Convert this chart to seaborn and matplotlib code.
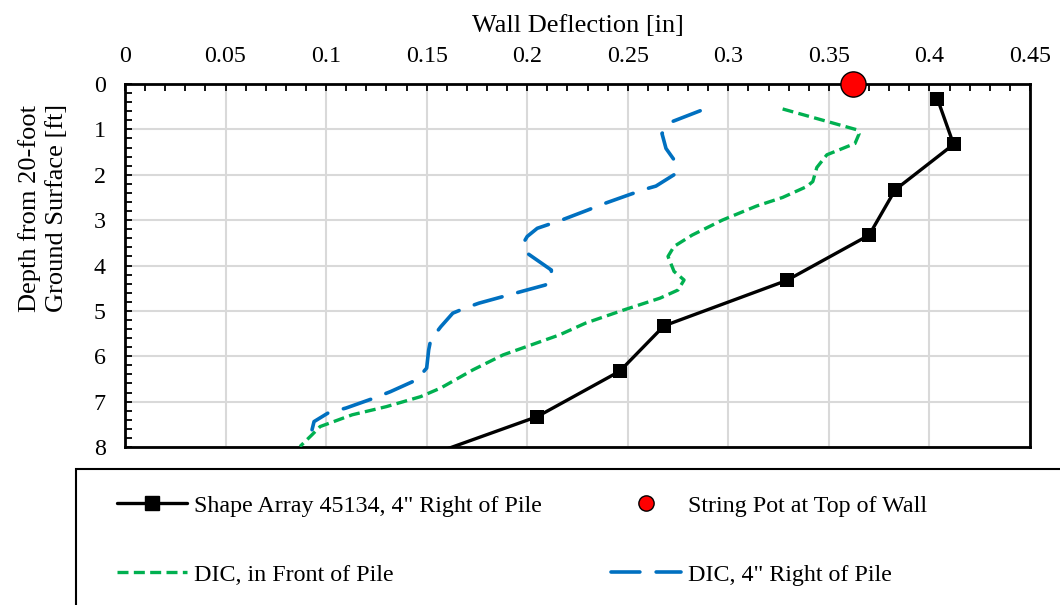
import pandas as pd
import matplotlib
matplotlib.use("Agg")
import matplotlib.pyplot as plt
from matplotlib.lines import Line2D
from matplotlib.patches import Rectangle
from matplotlib.ticker import MultipleLocator
import seaborn as sns

# Shape array 45134, 4" right of pile
shape_depth = [0.33, 1.33, 2.33, 3.33, 4.33, 5.33, 6.33, 7.33, 8.33]
shape_defl = [0.404, 0.412, 0.383, 0.370, 0.329, 0.268, 0.246, 0.205, 0.142]

# string pot at top of wall
pot_depth = [0.0]
pot_defl = [0.362]

# DIC, in front of pile
front_depth = [0.55, 1.01, 1.10, 1.31, 1.56, 1.84, 2.15, 2.26, 2.50, 2.69, 3.00, 3.33,
               3.58, 3.80, 4.13, 4.32, 4.54, 4.72, 4.98, 5.27, 5.53, 5.64, 5.97, 6.30,
               6.70, 6.89, 7.11, 7.29, 7.55, 7.73, 7.99]
front_defl = [0.327, 0.364, 0.365, 0.363, 0.349, 0.344, 0.342, 0.339, 0.327, 0.314, 0.297, 0.282,
              0.273, 0.270, 0.273, 0.278, 0.275, 0.266, 0.248, 0.229, 0.216, 0.209, 0.188, 0.173,
              0.157, 0.147, 0.130, 0.113, 0.097, 0.093, 0.087]

# DIC, 4" right of pile
right_depth = [0.59, 0.83, 1.09, 1.42, 1.67, 2.00, 2.25, 2.30, 2.42, 2.64, 2.78, 3.00,
               3.18, 3.36, 3.51, 3.73, 4.10, 4.32, 4.43, 4.55, 4.83, 4.94, 5.05, 5.35,
               5.64, 5.86, 6.26, 6.52, 6.78, 6.92, 7.14, 7.25, 7.44, 7.62]
right_defl = [0.286, 0.272, 0.267, 0.269, 0.273, 0.273, 0.264, 0.260, 0.252, 0.238, 0.230, 0.217,
              0.205, 0.200, 0.198, 0.200, 0.212, 0.212, 0.209, 0.199, 0.176, 0.169, 0.163, 0.157,
              0.152, 0.151, 0.150, 0.145, 0.132, 0.124, 0.110, 0.101, 0.094, 0.093]

labels = ["Shape Array 45134, 4\" Right of Pile", "DIC, in Front of Pile",
          "String Pot at Top of Wall", "DIC, 4\" Right of Pile"]

sns.set_style("white")
plt.rcParams["font.family"] = ["Liberation Serif", "DejaVu Serif"]
plt.rcParams["font.size"] = 17.3
plt.rcParams["text.color"] = "black"
plt.rcParams["axes.labelcolor"] = "black"
plt.rcParams["xtick.color"] = "black"
plt.rcParams["ytick.color"] = "black"

W, H = 1060, 605
fig = plt.figure(figsize=(W / 100, H / 100), dpi=100)
ax = fig.add_axes([125 / W, 1 - 447 / H, 905 / W, 363 / H])

green = "#00B050"
blue = "#0070C0"

shape = pd.DataFrame({"defl": shape_defl, "depth": shape_depth})
front = pd.DataFrame({"defl": front_defl, "depth": front_depth})
right = pd.DataFrame({"defl": right_defl, "depth": right_depth})

sns.lineplot(data=right, x="defl", y="depth", sort=False, estimator=None, color=blue,
             lw=2.6, ax=ax, zorder=3)
ax.lines[-1].set_dashes((8, 4.5))
ax.lines[-1].set_dash_capstyle("round")
sns.lineplot(data=front, x="defl", y="depth", sort=False, estimator=None, color=green,
             lw=2.4, ax=ax, zorder=3)
ax.lines[-1].set_dashes((3.3, 1.6))
sns.lineplot(data=shape, x="defl", y="depth", sort=False, estimator=None, color="black",
             lw=2.4, marker="s", markersize=10, markeredgewidth=0, ax=ax, zorder=4)
sns.scatterplot(x=pot_defl, y=pot_depth, color="#FF0000", edgecolor="black", linewidth=1,
                s=330, ax=ax, zorder=6, clip_on=False)

ax.set_xlim(0, 0.45)
ax.set_ylim(8, 0)
ax.xaxis.set_major_locator(MultipleLocator(0.05))
ax.xaxis.set_minor_locator(MultipleLocator(0.01))
ax.yaxis.set_major_locator(MultipleLocator(1))
ax.yaxis.set_minor_locator(MultipleLocator(0.2))
ax.xaxis.set_major_formatter(matplotlib.ticker.FuncFormatter(lambda v, p: f"{v:.2f}".rstrip("0").rstrip(".")))
ax.xaxis.tick_top()
ax.xaxis.set_label_position("top")
ax.tick_params(which="both", direction="in", length=5, width=1.3, color="black",
               labelcolor="black", top=True, bottom=False, left=True, right=False)
ax.tick_params(axis="x", which="major", pad=12, labelsize=17.3)
ax.tick_params(axis="y", which="major", pad=14, labelsize=17.3)
ax.grid(True, which="major", color="#D9D9D9", lw=1.5)
ax.set_axisbelow(True)
for s in ax.spines.values():
    s.set_color("black")
    s.set_linewidth(2)

ax.set_xlabel("Wall Deflection [in]", fontsize=19, labelpad=10)
ax.set_ylabel("Depth from 20-foot\nGround Surface [ft]", fontsize=19, linespacing=1.3)
ax.yaxis.set_label_coords(-0.063, 0.658)

handles = [
    Line2D([], [], color="black", lw=2.4, marker="s", markersize=10),
    Line2D([], [], color=green, lw=2.4, dashes=(3.3, 1.6)),
    Line2D([], [], ls="none", marker="o", markersize=11, markerfacecolor="#FF0000",
           markeredgecolor="black", markeredgewidth=1),
    Line2D([], [], color=blue, lw=2.6, dashes=(8, 4.5), dash_capstyle="round"),
]
fig.legend(handles, labels, ncol=2, frameon=False, loc="upper left",
           bbox_to_anchor=(105 / W, 1 - 483 / H), fontsize=17.3, handlelength=2.9,
           handletextpad=0.3, columnspacing=2.9, labelspacing=1.95, borderpad=0)

fig.add_artist(Rectangle((76 / W, -0.1), 1.1, (605 - 469) / H + 0.1,
                         transform=fig.transFigure, fill=False, ec="black", lw=1.5))

fig.savefig("out.png", dpi=100)
